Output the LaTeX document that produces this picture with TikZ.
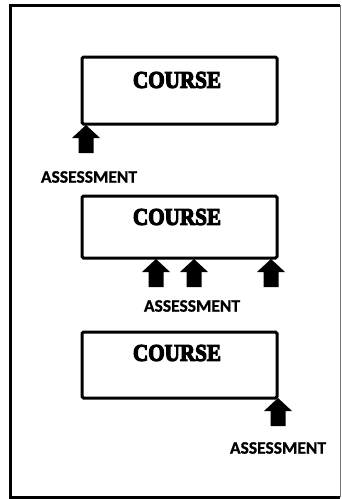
\documentclass[tikz,border=0pt]{standalone}
\usepackage{fontspec}
\newfontfamily\coursefont{Liberation Serif}[BoldFeatures={FakeBold=5}]
\newfontfamily\labelfont{Carlito}[BoldFeatures={FakeBold=1}]
\begin{document}
\begin{tikzpicture}[x=1pt,y=-1pt,
  coursebox/.style={draw=black,line width=3pt,rounded corners=1.5pt},
  coursetext/.style={font=\coursefont\bfseries\fontsize{24}{24}\selectfont,xscale=0.88,inner sep=0pt},
  asslabel/.style={font=\labelfont\bfseries\fontsize{17.5}{18}\selectfont,inner sep=0pt},
  uparrow/.pic={\fill[black] (0,0) -- (14,13) -- (7.5,13) -- (7.5,28) -- (-7.5,28) -- (-7.5,13) -- (-14,13) -- cycle;}]
\useasboundingbox (0,0) rectangle (342,499);
\fill[white] (0,0) rectangle (342,499);
% frame
\draw[line width=3pt,black] (340,5) -- (10,5) -- (10,497) -- (340,497);
\draw[line width=1.5pt,black!55] (340.5,5) -- (340.5,497);
% boxes
\draw[coursebox] (82,57) rectangle (277,124);
\draw[coursebox] (82,196) rectangle (277,258);
\draw[coursebox] (82,332) rectangle (277,398);
\node[coursetext] (c1) at (177,80) {COURSE};
\node[coursetext] (c2) at (177,217) {COURSE};
\node[coursetext] (c3) at (177,353) {COURSE};
% arrows
\pic at (86,125) {uparrow};
\pic at (156,259) {uparrow};
\pic at (194,259) {uparrow};
\pic at (271,259) {uparrow};
\pic at (278,398) {uparrow};
% labels
\node[asslabel] (a1) at (89,177) {ASSESSMENT};
\node[asslabel] (a2) at (192,306) {ASSESSMENT};
\node[asslabel] (a3) at (278,448) {ASSESSMENT};
\end{tikzpicture}
\end{document}
